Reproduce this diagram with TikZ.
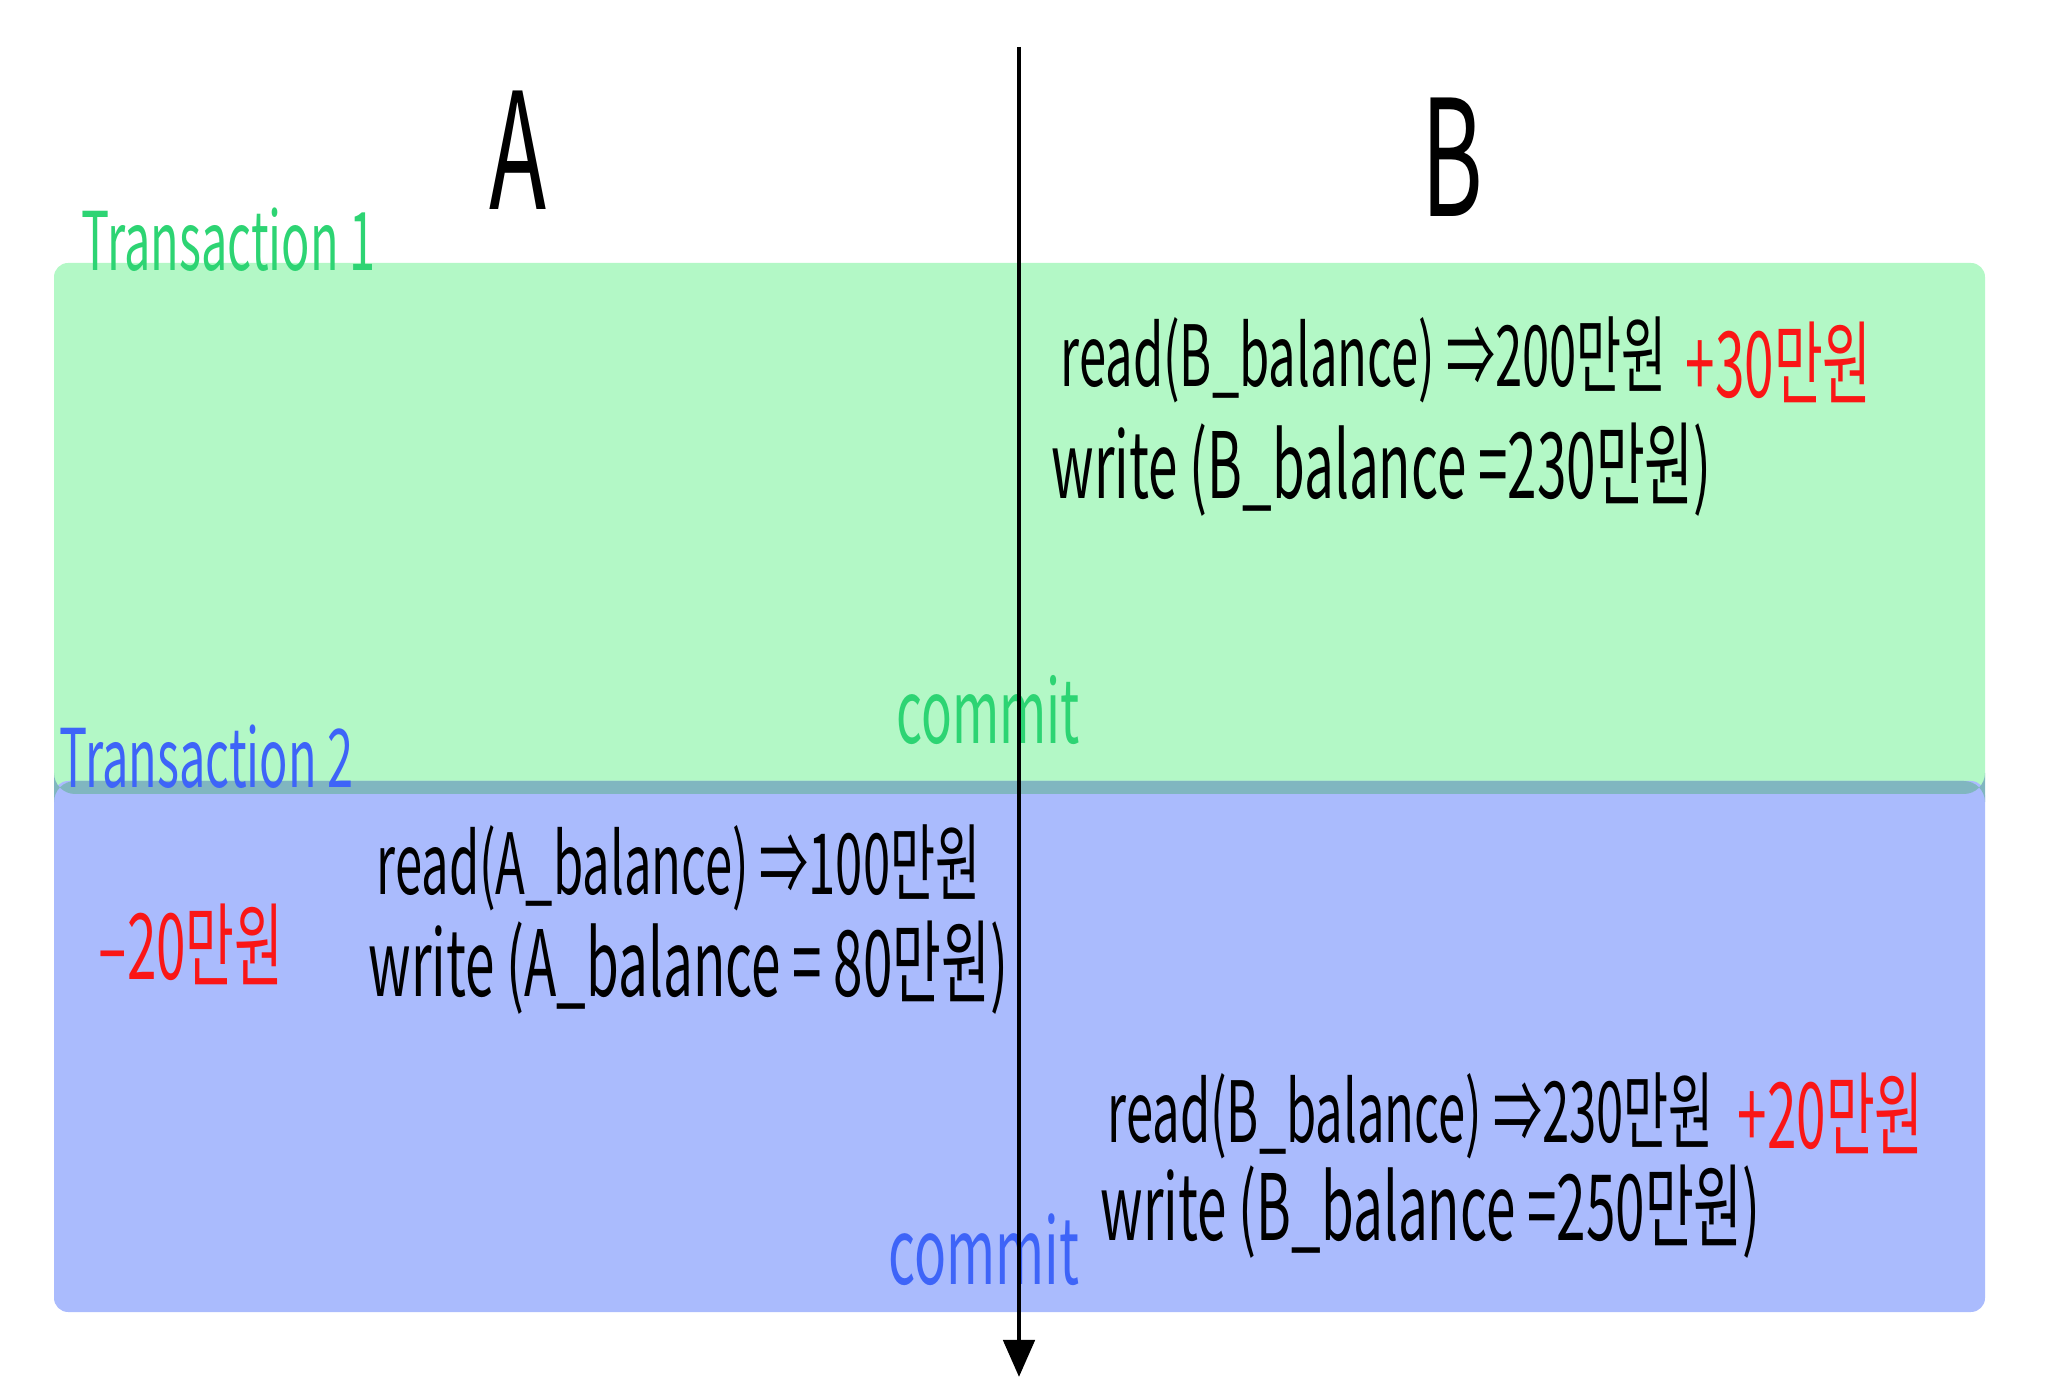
\documentclass[tikz,border=0pt]{standalone}
\usepackage{fontspec}
\setmainfont{Noto Sans CJK KR}[FakeStretch=0.58]
\usepackage{tikz}
\usetikzlibrary{arrows.meta}
\definecolor{boxgreen}{RGB}{179,248,198}
\definecolor{boxblue}{RGB}{170,187,253}
\definecolor{boxteal}{RGB}{128,182,192}
\definecolor{pengreen}{RGB}{45,212,115}
\definecolor{penblue}{RGB}{62,100,248}
\definecolor{penred}{RGB}{250,22,22}

\begin{document}
\begin{tikzpicture}[x=0.01cm,y=-0.01cm,
  hand/.style={inner sep=0pt,anchor=west,font=\fontsize{24pt}{28pt}\selectfont},
  wide/.style={hand,font=\fontsize{26pt}{30pt}\selectfont},
  big/.style={inner sep=0pt,font=\fontsize{46pt}{50pt}\selectfont},
  note/.style={hand,text=penred,font=\fontsize{26pt}{30pt}\selectfont},
  tag/.style={hand,font=\fontsize{23pt}{28pt}\selectfont}]
  \useasboundingbox (0,0) rectangle (2048,1395);

  % the two transactions
  \fill[boxgreen,rounded corners=4] (54,263) rectangle (1985,794);
  \fill[boxblue,rounded corners=4] (54,781) rectangle (1985,1312);
  \fill[boxteal,rounded corners=6] (54,781) rectangle (1985,794);

  \node[big] (labA) at (518,150) {A};
  \node[big] (labB) at (1452,157) {B};

  \node[tag,text=pengreen] (tone) at (81,240) {Transaction 1};
  \node[tag,text=penblue] (ttwo) at (59,757) {Transaction 2};

  % transaction 1 on B
  \node[hand] (rbone) at (1060,360) {read(B\_balance) ⇒200만원};
  \node[note] (rbonep) at (1685,362) {+30만원};
  \node[wide] (wbone) at (1051,470) {write (B\_balance =230만원)};
  \node[tag,text=pengreen,font=\fontsize{25pt}{28pt}\selectfont] (cone) at (896,710) {commit};

  % transaction 2 on A and B
  \node[hand] (ra) at (376,868) {read(A\_balance) ⇒100만원};
  \node[note] (ram) at (98,944) {–20만원};
  \node[wide] (wa) at (368,968) {write (A\_balance = 80만원)};
  \node[hand] (rbtwo) at (1107,1116) {read(B\_balance) ⇒230만원};
  \node[note] (rbtwop) at (1737,1113) {+20만원};
  \node[wide] (wbtwo) at (1100,1212) {write (B\_balance =250만원)};
  \node[tag,text=penblue,font=\fontsize{26pt}{28pt}\selectfont] (ctwo) at (888,1250) {commit};

  % time axis
  \coordinate (ttop) at (1019,47);
  \coordinate (tbot) at (1019,1377);
  \draw[line width=1.4pt,-{Triangle[length=0.37cm,width=0.31cm]}] (ttop) -- (tbot);
\end{tikzpicture}
\end{document}
